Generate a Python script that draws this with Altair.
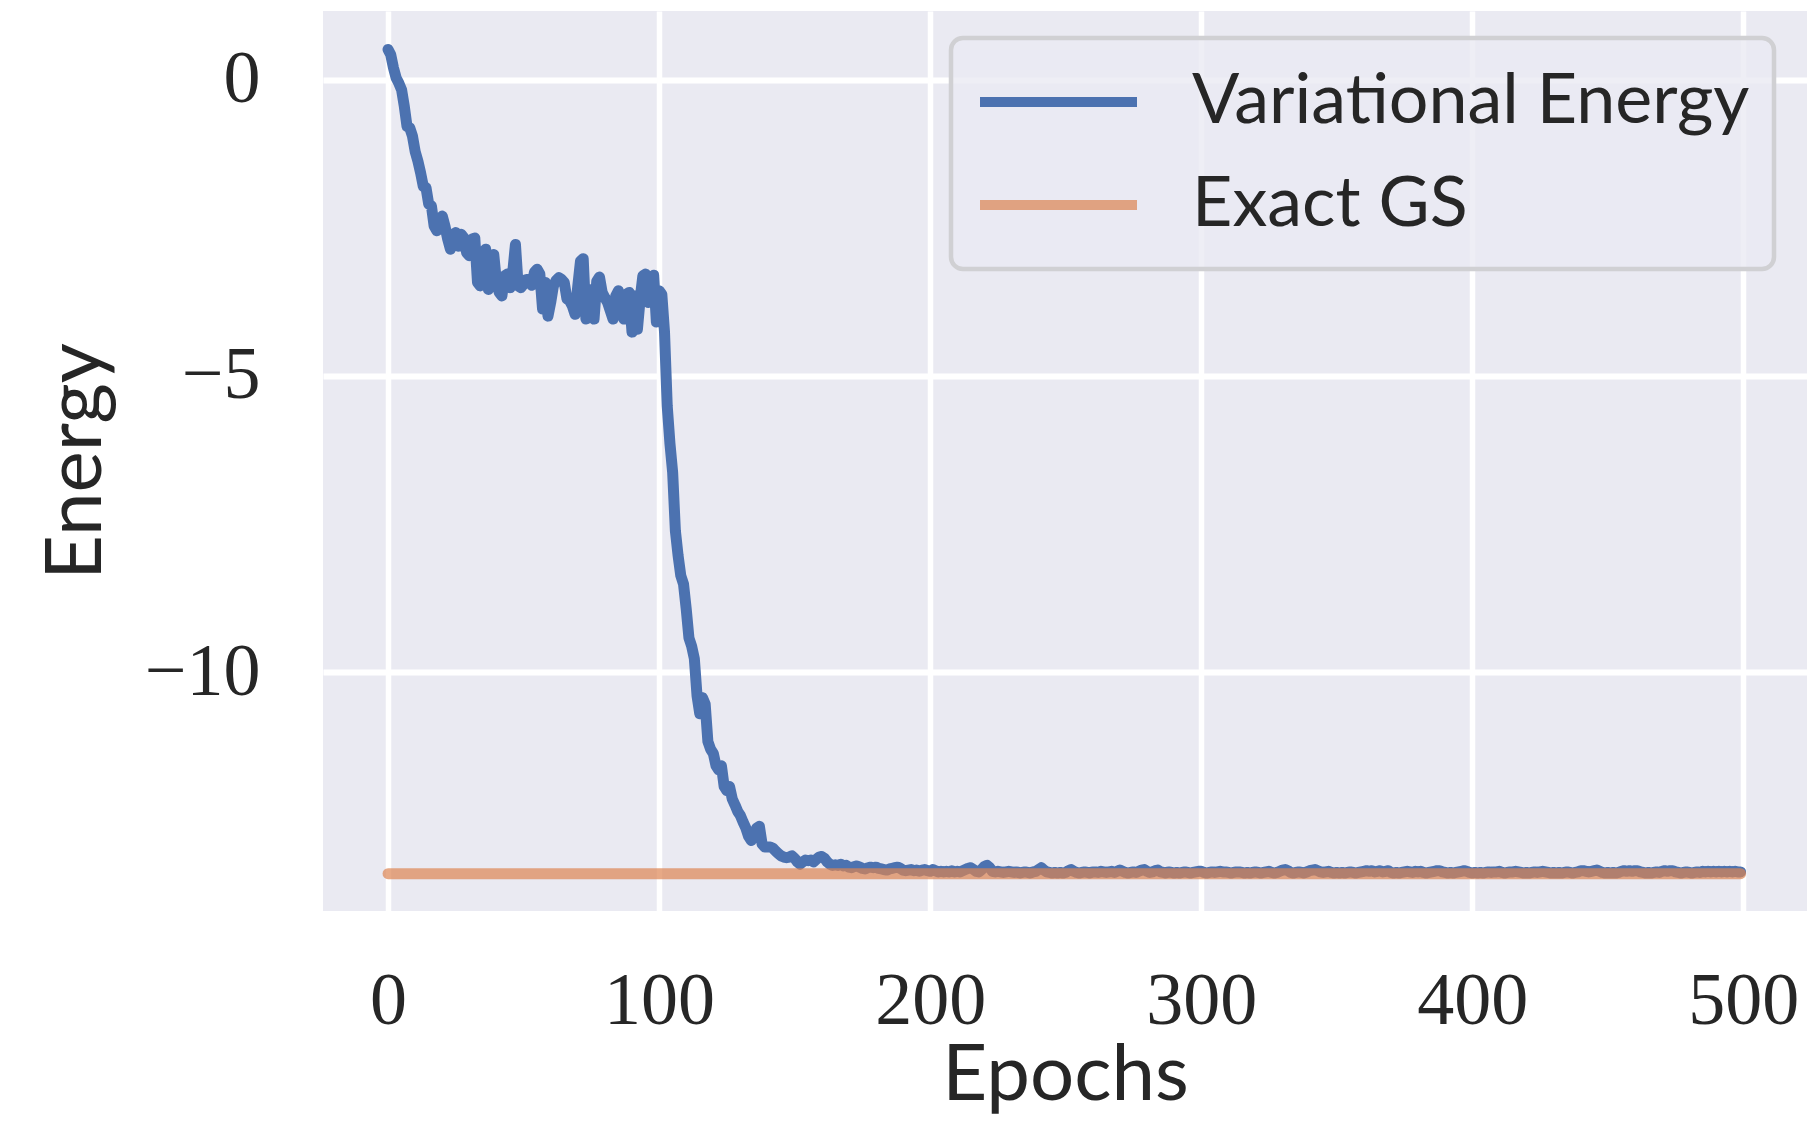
import altair as alt
import pandas as pd

# ---------------- data ----------------
energy_0_51 = [
    0.51, 0.42, 0.20, 0.03, -0.06, -0.17, -0.45, -0.79, -0.81, -0.95,
    -1.21, -1.37, -1.57, -1.80, -1.82, -2.10, -2.13, -2.47, -2.55, -2.47,
    -2.30, -2.47, -2.69, -2.86, -2.61, -2.58, -2.81, -2.61, -2.67, -2.92,
    -2.97, -2.69, -2.67, -3.42, -3.48, -3.14, -2.86, -3.54, -3.14, -2.95,
    -3.42, -3.59, -3.65, -3.31, -3.28, -3.51, -3.25, -2.78, -3.48, -3.51,
    -3.45, -3.37,
]
energy_52_101 = [
    -3.37, -3.47, -3.25, -3.20, -3.28, -3.87, -3.42, -3.99, -3.76, -3.48,
    -3.39, -3.34, -3.37, -3.42, -3.70, -3.73, -3.82, -3.96, -3.48, -3.06,
    -3.02, -4.04, -3.54, -3.65, -4.04, -3.40, -3.33, -3.59, -3.68, -3.76,
    -3.90, -4.04, -3.65, -3.56, -3.93, -4.04, -3.62, -3.59, -4.26, -3.65,
    -4.21, -3.70, -3.31, -3.28, -3.76, -3.65, -3.30, -4.09, -3.56, -3.62,
]
energy_102_150 = [
    -4.26, -5.51, -6.14, -6.63, -7.61, -8.03, -8.37, -8.51, -8.93, -9.42,
    -9.56, -9.77, -10.40, -10.70, -10.43, -10.54, -11.17, -11.30, -11.37, -11.58,
    -11.65, -11.58, -11.93, -12.00, -11.93, -12.14, -12.24, -12.35, -12.42, -12.53,
    -12.63, -12.77, -12.84, -12.77, -12.63, -12.60, -12.90, -12.95, -12.95, -12.95,
    -12.97, -13.02, -13.06, -13.10, -13.12, -13.13, -13.12, -13.10, -13.14,
]
energy_151_230 = [
    -13.20, -13.24, -13.20, -13.17, -13.18, -13.17, -13.20, -13.16, -13.12, -13.11,
    -13.14, -13.20, -13.24, -13.26, -13.25, -13.26, -13.24, -13.27, -13.26, -13.29,
    -13.30, -13.28, -13.27, -13.29, -13.31, -13.32, -13.30, -13.29, -13.30, -13.29,
    -13.31, -13.32, -13.33, -13.34, -13.32, -13.31, -13.30, -13.29, -13.31, -13.34,
    -13.35, -13.34, -13.33, -13.35, -13.34, -13.36, -13.34, -13.33, -13.35, -13.36,
    -13.33, -13.35, -13.37, -13.36, -13.37, -13.36, -13.37, -13.35, -13.37, -13.36,
    -13.37, -13.35, -13.33, -13.31, -13.30, -13.33, -13.36, -13.37, -13.33, -13.28,
    -13.26, -13.30, -13.36, -13.37, -13.36, -13.37, -13.38, -13.37, -13.36, -13.37,
]
energy_231_499 = [
    -13.38, -13.37, -13.39, -13.38, -13.37, -13.38, -13.39, -13.37, -13.36, -13.33,
    -13.30, -13.34, -13.37, -13.38, -13.39, -13.38, -13.39, -13.38, -13.39, -13.38,
    -13.35, -13.33, -13.36, -13.38, -13.39, -13.38, -13.37, -13.38, -13.39, -13.37,
    -13.37, -13.38, -13.36, -13.37, -13.38, -13.37, -13.36, -13.38, -13.36, -13.34,
    -13.36, -13.38, -13.39, -13.38, -13.37, -13.38, -13.36, -13.34, -13.33, -13.36,
    -13.38, -13.37, -13.35, -13.34, -13.37, -13.38, -13.39, -13.37, -13.38, -13.39,
    -13.38, -13.39, -13.38, -13.37, -13.38, -13.39, -13.38, -13.37, -13.36, -13.36,
    -13.38, -13.39, -13.38, -13.37, -13.38, -13.37, -13.36, -13.37, -13.37, -13.38,
    -13.39, -13.38, -13.37, -13.37, -13.38, -13.39, -13.38, -13.39, -13.38, -13.37,
    -13.38, -13.39, -13.38, -13.37, -13.36, -13.38, -13.39, -13.38, -13.36, -13.34,
    -13.33, -13.35, -13.38, -13.39, -13.38, -13.37, -13.38, -13.39, -13.37, -13.35,
    -13.34, -13.33, -13.35, -13.37, -13.38, -13.37, -13.36, -13.38, -13.39, -13.38,
    -13.39, -13.38, -13.39, -13.38, -13.37, -13.38, -13.39, -13.38, -13.37, -13.36,
    -13.35, -13.36, -13.35, -13.37, -13.36, -13.35, -13.37, -13.36, -13.35, -13.38,
    -13.39, -13.38, -13.39, -13.38, -13.37, -13.36, -13.37, -13.38, -13.36, -13.37,
    -13.36, -13.38, -13.39, -13.38, -13.37, -13.36, -13.35, -13.35, -13.37, -13.38,
    -13.39, -13.38, -13.39, -13.38, -13.37, -13.36, -13.35, -13.36, -13.38, -13.39,
    -13.38, -13.39, -13.38, -13.39, -13.38, -13.37, -13.38, -13.37, -13.37, -13.36,
    -13.38, -13.39, -13.38, -13.37, -13.37, -13.36, -13.37, -13.38, -13.39, -13.38,
    -13.39, -13.38, -13.37, -13.38, -13.37, -13.36, -13.37, -13.38, -13.39, -13.38,
    -13.39, -13.38, -13.39, -13.38, -13.37, -13.38, -13.39, -13.38, -13.37, -13.35,
    -13.35, -13.36, -13.37, -13.36, -13.35, -13.34, -13.36, -13.38, -13.39, -13.38,
    -13.39, -13.38, -13.39, -13.38, -13.36, -13.35, -13.36, -13.35, -13.36, -13.35,
    -13.35, -13.37, -13.38, -13.39, -13.38, -13.39, -13.38, -13.37, -13.38, -13.36,
    -13.35, -13.36, -13.35, -13.35, -13.37, -13.38, -13.39, -13.38, -13.37, -13.38,
    -13.39, -13.38, -13.37, -13.38, -13.36, -13.37, -13.36, -13.37, -13.36, -13.37,
    -13.36, -13.37, -13.36, -13.37, -13.36, -13.37, -13.36, -13.37, -13.37,
]
energy = energy_0_51 + energy_52_101 + energy_102_150 + energy_151_230 + energy_231_499
assert len(energy) == 500, len(energy)
epochs = list(range(len(energy)))

gs_epochs = [0, 499]
gs_energy = [-13.40, -13.40]

series_names = ["Variational Energy", "Exact GS"]
series_colors = ["#4C72B0", "#DD8452"]
series_opacity = [1.0, 0.7]

x_ticks = [0, 100, 200, 300, 400, 500]
y_ticks = [0, -5, -10]

df_var = pd.DataFrame({"epoch": epochs, "energy": energy, "series": series_names[0]})
df_gs = pd.DataFrame({"epoch": gs_epochs, "energy": gs_energy, "series": series_names[1]})

TEXT = "#262626"

x_enc = alt.X(
    "epoch:Q",
    scale=alt.Scale(domain=[-24, 523.5], nice=False, zero=False),
    axis=alt.Axis(
        values=x_ticks, title="Epochs", labelPadding=54, labelFlush=False,
        titleY=188, titleBaseline="alphabetic", gridWidth=5.5,
    ),
)
y_enc = alt.Y(
    "energy:Q",
    scale=alt.Scale(domain=[-14.03, 1.16], nice=False, zero=False),
    axis=alt.Axis(
        values=y_ticks, title="Energy", labelPadding=63,
        titleAngle=270, titleX=-223, titleY=450, titleBaseline="alphabetic",
        titleAlign="center", gridWidth=6,
    ),
)
color_enc = alt.Color(
    "series:N",
    scale=alt.Scale(domain=series_names, range=series_colors),
    legend=alt.Legend(
        title=None, orient="none", legendX=628, legendY=27,
        symbolType="stroke", symbolSize=24649, symbolStrokeWidth=10,
        labelFont="Lato", labelFontSize=70, labelColor=TEXT, labelLimit=3000,
        labelOffset=50, padding=24, rowPadding=23, clipHeight=80,
        strokeColor="#d0d0d3", fillColor="rgba(234,234,242,0.8)", cornerRadius=12,
    ),
)
opacity_enc = alt.Opacity(
    "series:N", scale=alt.Scale(domain=series_names, range=series_opacity)
)

line_style = dict(strokeWidth=11, strokeCap="round", strokeJoin="round")

var_layer = alt.Chart(df_var).mark_line(**line_style).encode(
    x=x_enc, y=y_enc, color=color_enc, opacity=opacity_enc
)
gs_layer = alt.Chart(df_gs).mark_line(**line_style).encode(
    x=x_enc, y=y_enc, color=color_enc, opacity=opacity_enc
)

chart = (
    alt.layer(var_layer, gs_layer)
    .properties(
        width=1484, height=900,
        autosize=alt.AutoSizeParams(type="none"),
        padding={"left": 315, "top": 3, "right": 4, "bottom": 205},
        background="white",
    )
    .configure_view(fill="#EAEAF2", strokeWidth=0)
    .configure_axis(
        domain=False, ticks=False, tickSize=0, grid=True, gridColor="white",
        gridOpacity=1, labelFont="Liberation Serif", labelFontSize=74,
        labelColor=TEXT, labelOverlap=False, titleFont="Lato", titleFontSize=78,
        titleFontWeight="normal", titleColor=TEXT,
    )
    .configure_legend(strokeWidth=4.5)
)

chart.save("out.html", embed_options={"renderer": "svg", "actions": False})
